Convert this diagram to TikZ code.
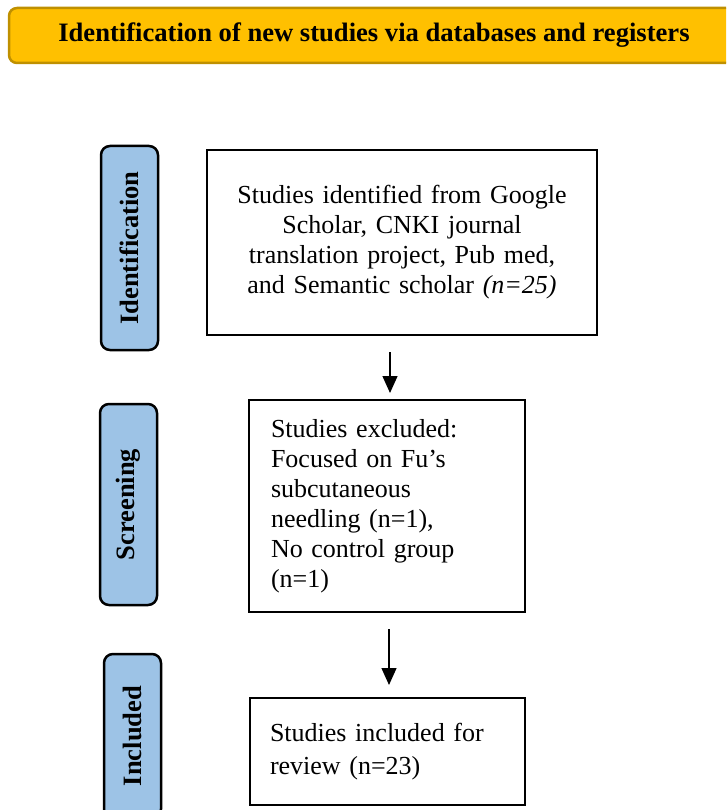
\documentclass[tikz,border=0pt]{standalone}
\usepackage{fontspec}
\setmainfont{Liberation Serif}
\usetikzlibrary{arrows.meta}
\definecolor{gold}{HTML}{FFC000}
\definecolor{golddark}{HTML}{BF9000}
\definecolor{phase}{HTML}{9DC3E6}
\begin{document}
\begin{tikzpicture}[x=1pt,y=-1pt,
  txt/.style={font=\fontsize{26}{30}\selectfont},
  flowbox/.style={draw=black, line width=2pt, fill=white, inner ysep=0pt, txt},
  phasebox/.style={draw=black, line width=2.5pt, fill=phase, rounded corners=9pt,
    rotate=90, inner sep=0pt, font=\fontsize{26.5}{30}\selectfont\bfseries},
  arr/.style={-{Triangle[width=15pt,length=17pt]}, line width=1.3pt}]
\useasboundingbox (0,0) rectangle (726,810);
\clip (0,0) rectangle (726,810);
% banner
\node[draw=golddark, line width=2.5pt, fill=gold, rounded corners=8pt,
  minimum width=730pt, minimum height=55pt, inner sep=0pt,
  font=\fontsize{26.6}{30}\selectfont\bfseries] (banner) at (374,35.5)
  {Identification of new studies via databases and registers};
% phase labels
\node[phasebox, minimum width=204pt, minimum height=57pt] (pid) at (129.5,248) {Identification};
\node[phasebox, minimum width=201pt, minimum height=57pt] (pscr) at (128.5,504.5) {Screening};
\node[phasebox, minimum width=164pt, minimum height=57pt] (pinc) at (132.5,736) {Included};
% flow boxes
\node[flowbox, text width=350pt, inner xsep=20pt, minimum height=185pt, align=center] (b1) at (402,242.5)
  {Studies identified from Google\\Scholar, CNKI journal\\translation project, Pub med,\\and Semantic scholar \textit{(n=25)}};
\node[flowbox, text width=232pt, inner xsep=22pt, minimum height=212pt, align=left] (b2) at (387,506)
  {Studies excluded:\\Focused on Fu’s\\subcutaneous\\needling (n=1),\\No control group\\(n=1)};
\node[flowbox, text width=235pt, inner xsep=20pt, minimum height=107pt, align=left,
  font=\fontsize{26}{33}\selectfont] (b3) at (387.5,751.5)
  {Studies included for\\review (n=23)};
% arrows
\coordinate (ax1) at (390,0);
\coordinate (ax2) at (389,0);
\draw[arr, shorten <=16pt, shorten >=6pt] (b1.south -| ax1) -- (b2.north -| ax1);
\draw[arr, shorten <=16pt, shorten >=12pt] (b2.south -| ax2) -- (b3.north -| ax2);
\end{tikzpicture}
\end{document}
